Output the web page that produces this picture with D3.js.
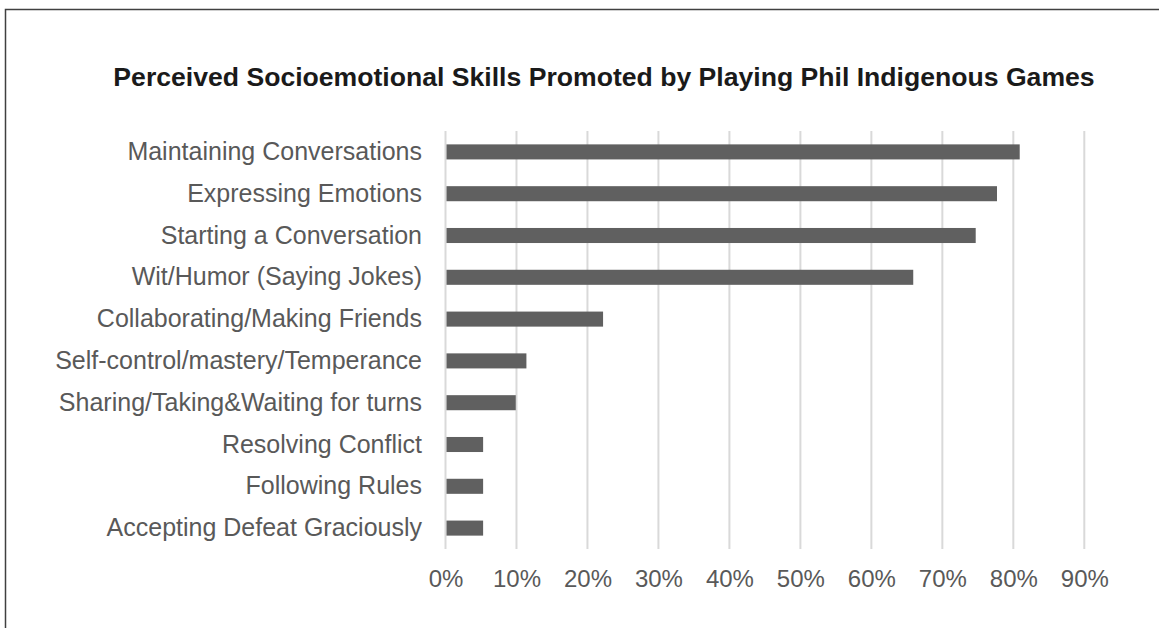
<!DOCTYPE html>
<html>
<head>
<meta charset="utf-8">
<script src="https://cdn.jsdelivr.net/npm/d3@7"></script>
<style>
  html, body { margin: 0; padding: 0; background: #fff; }
  svg { display: block; font-family: "Liberation Sans", Arial, sans-serif; }
</style>
</head>
<body>
<svg id="chart" width="1159" height="628"></svg>
<script>
// Skills, listed top to bottom
const categories = [
  "Maintaining Conversations",
  "Expressing Emotions",
  "Starting a Conversation",
  "Wit/Humor (Saying Jokes)",
  "Collaborating/Making Friends",
  "Self-control/mastery/Temperance",
  "Sharing/Taking&Waiting for turns",
  "Resolving Conflict",
  "Following Rules",
  "Accepting Defeat Graciously"
];
// Share of respondents (fraction)
const values = [0.809, 0.777, 0.747, 0.659, 0.222, 0.114, 0.099, 0.053, 0.053, 0.053];
const tickValues = [0, 0.1, 0.2, 0.3, 0.4, 0.5, 0.6, 0.7, 0.8, 0.9];
const titleText = "Perceived Socioemotional Skills Promoted by Playing Phil Indigenous Games";

const svg = d3.select("#chart");

// frame around the figure (open at right and bottom)
svg.append("path")
  .attr("d", "M5.5,628 V9.5 H1159")
  .attr("fill", "none")
  .attr("stroke", "#404040")
  .attr("stroke-width", 1.5);

const x = d3.scaleLinear().domain([0, 0.9]).range([445.5, 1084.3]);
const y = d3.scaleBand().domain(categories).range([131, 549]).paddingInner(0.64).paddingOuter(0.32);

// vertical gridlines
svg.append("g").selectAll("line")
  .data(tickValues)
  .join("line")
  .attr("x1", d => x(d)).attr("x2", d => x(d))
  .attr("y1", 131).attr("y2", 549)
  .attr("stroke", "#d9d9d9")
  .attr("stroke-width", 2);

// bars
svg.append("g").selectAll("rect")
  .data(categories)
  .join("rect")
  .attr("x", x(0) + 1)
  .attr("y", d => y(d))
  .attr("width", (d, i) => x(values[i]) - x(0) - 1)
  .attr("height", y.bandwidth())
  .attr("fill", "#606060");

// x axis labels
const xAxis = d3.axisBottom(x)
  .tickValues(tickValues)
  .tickFormat(d3.format(".0%"))
  .tickSize(0)
  .tickPadding(0);
const gx = svg.append("g").attr("transform", "translate(0,570)").call(xAxis);
gx.select(".domain").remove();
gx.selectAll("text")
  .attr("fill", "#595959")
  .style("font-size", "24px")
  .style("font-family", "'Liberation Sans', Arial, sans-serif");

// category labels
const yAxis = d3.axisLeft(y).tickSize(0).tickPadding(0);
const gy = svg.append("g").attr("transform", "translate(422,0)").call(yAxis);
gy.select(".domain").remove();
gy.selectAll("text")
  .attr("fill", "#595959")
  .style("font-size", "25px")
  .style("font-family", "'Liberation Sans', Arial, sans-serif");

// title
svg.append("text")
  .attr("x", 604)
  .attr("y", 86)
  .attr("text-anchor", "middle")
  .attr("fill", "#1a1a1a")
  .style("font-size", "26.6px")
  .style("font-weight", "bold")
  .text(titleText);
</script>
</body>
</html>
